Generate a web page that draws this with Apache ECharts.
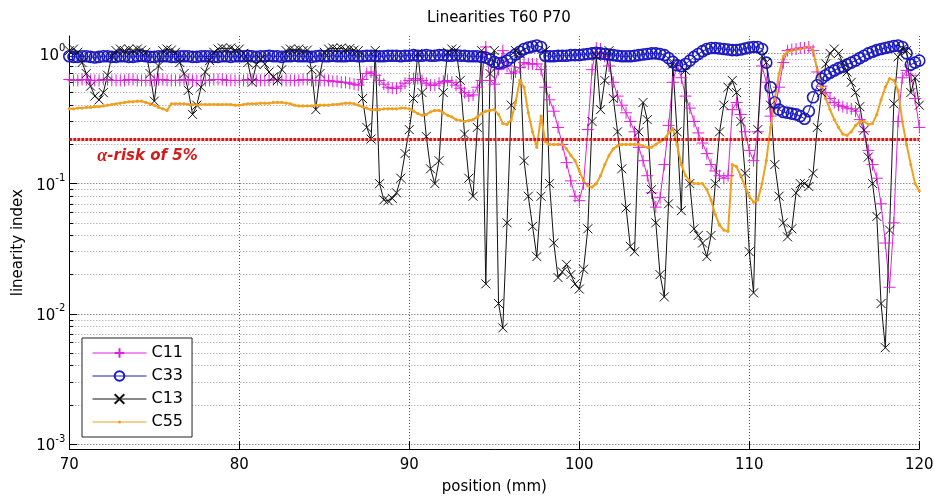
<!DOCTYPE html>
<html>
<head>
<meta charset="utf-8">
<script src="https://cdn.jsdelivr.net/npm/echarts@6/dist/echarts.min.js"></script>
<style>
  html, body { margin: 0; padding: 0; background: #fff; }
  #chart { width: 935px; height: 499px; }
</style>
</head>
<body>
<div id="chart"></div>
<script>
// Sampling grid along the specimen: 70 mm to 120 mm every 0.25 mm
const positionStart = 70;
const positionStep = 0.25;

// Linearity index per stiffness coefficient (one value per grid position)
const c11 = [
  0.63, 0.62, 0.62, 0.63,  0.63, 0.62, 0.62, 0.62,  0.63, 0.63, 0.62, 0.62,  0.62, 0.62, 0.63, 0.63,
  0.62, 0.62, 0.62, 0.62,  0.62, 0.63, 0.63, 0.62,  0.62, 0.62, 0.62, 0.63,  0.63, 0.62, 0.62, 0.62,
  0.62, 0.62, 0.63, 0.63,  0.63, 0.62, 0.62, 0.62,  0.62, 0.62, 0.63, 0.63,  0.62, 0.62, 0.62, 0.62,
  0.63, 0.63, 0.62, 0.62,  0.62, 0.62, 0.62, 0.63,  0.63, 0.62, 0.62, 0.62,  0.62, 0.62, 0.61, 0.61,
  0.60, 0.60, 0.59, 0.58,  0.57, 0.63, 0.70, 0.72,  0.68, 0.62, 0.58, 0.55,  0.54, 0.54, 0.56, 0.59,
  0.62, 0.64, 0.64, 0.62,  0.59, 0.57, 0.57, 0.59,  0.61, 0.62, 0.60, 0.57,  0.54, 0.50, 0.47, 0.48,
  0.55, 0.62, 1.12, 0.62,  0.58, 0.75, 1.05, 0.80,  0.70, 0.72, 0.78, 0.85,  0.83, 0.83, 0.83, 0.75,
  0.55, 0.44, 0.36, 0.27,  0.20, 0.145, 0.105, 0.08, 0.074, 0.10, 0.26, 0.75, 1.10, 1.08, 0.95, 0.80,
  0.60, 0.47, 0.40, 0.35,  0.30, 0.25, 0.19, 0.15,  0.115, 0.085, 0.066, 0.078, 0.14, 0.28, 0.60, 0.83,
  0.65, 0.47, 0.38, 0.30,  0.245, 0.205, 0.17, 0.14, 0.125, 0.115, 0.11, 0.115, 0.37, 0.42, 0.34, 0.25,
  0.18, 0.15, 0.25, 0.80,  0.60, 0.33, 0.38, 0.55,  0.85, 1.05, 1.07, 1.08,  1.10, 1.10, 1.12, 1.05,
  0.72, 0.56, 0.50, 0.45,  0.42, 0.40, 0.39, 0.38,  0.375, 0.36, 0.31, 0.25, 0.18, 0.14, 0.11, 0.07,
  0.035, 0.016, 0.05, 0.30, 0.65, 0.74, 0.68, 0.45, 0.27
];
const c33 = [
  0.95, 0.94, 0.94, 0.95,  0.95, 0.94, 0.93, 0.94,  0.95, 0.95, 0.94, 0.94,  0.95, 0.95, 0.94, 0.94,
  0.95, 0.96, 0.95, 0.94,  0.94, 0.95, 0.95, 0.95,  0.94, 0.94, 0.95, 0.95,  0.95, 0.94, 0.94, 0.95,
  0.95, 0.95, 0.94, 0.94,  0.95, 0.95, 0.94, 0.95,  0.95, 0.95, 0.96, 0.95,  0.94, 0.95, 0.95, 0.96,
  0.95, 0.95, 0.94, 0.95,  0.95, 0.96, 0.95, 0.95,  0.95, 0.94, 0.95, 0.96,  0.95, 0.95, 0.96, 0.95,
  0.95, 0.95, 0.96, 0.96,  0.95, 0.95, 0.96, 0.96,  0.96, 0.95, 0.95, 0.96,  0.96, 0.96, 0.95, 0.96,
  0.96, 0.97, 0.96, 0.96,  0.97, 0.96, 0.96, 0.97,  0.97, 0.96, 0.96, 0.97,  0.96, 0.96, 0.95, 0.95,
  0.95, 0.94, 0.93, 0.90,  0.86, 0.84, 0.85, 0.88,  0.93, 0.98, 1.03, 1.08,  1.11, 1.13, 1.15, 1.12,
  0.96, 0.95, 0.95, 0.96,  0.96, 0.96, 0.97, 0.97,  0.97, 0.98, 0.99, 1.00,  1.01, 1.00, 0.99, 0.98,
  0.97, 0.96, 0.95, 0.95,  0.95, 0.96, 0.97, 0.98,  0.99, 1.00, 1.00, 0.99,  0.97, 0.92, 0.86, 0.81,
  0.80, 0.83, 0.88, 0.94,  0.99, 1.04, 1.08, 1.10,  1.10, 1.09, 1.08, 1.07,  1.06, 1.06, 1.07, 1.09,
  1.11, 1.12, 1.12, 1.08,  0.85, 0.55, 0.42, 0.37,  0.355, 0.35, 0.345, 0.34, 0.33, 0.315, 0.36, 0.46,
  0.57, 0.64, 0.68, 0.71,  0.74, 0.77, 0.79, 0.82,  0.85, 0.88, 0.92, 0.96,  1.00, 1.03, 1.06, 1.08,
  1.10, 1.12, 1.14, 1.15,  1.12, 1.00, 0.82, 0.85,  0.88
];
const c13 = [
  1.05, 1.08, 1.02, 0.85,  0.70, 0.56, 0.47, 0.44,  0.50, 0.68, 0.95, 1.05,  1.08, 1.05, 1.08, 1.05,
  1.08, 1.06, 1.02, 0.70,  0.43, 0.80, 1.05, 1.08,  1.06, 1.02, 0.85, 0.70,  0.52, 0.34, 0.40, 0.55,
  0.72, 0.88, 1.02, 1.08,  1.10, 1.08, 1.10, 1.06,  1.08, 1.00, 0.85, 0.60,  0.82, 0.90, 0.83, 0.72,
  0.66, 0.62, 0.75, 1.05,  1.08, 1.06, 1.08, 1.05,  1.06, 0.75, 0.37, 0.70,  1.02, 1.08, 1.10, 1.08,
  1.10, 1.07, 1.09, 1.06,  1.05, 0.45, 0.27, 0.22,  1.05, 0.10, 0.075, 0.074, 0.077, 0.085, 0.11, 0.17,
  0.26, 0.45, 1.00, 0.50,  0.23, 0.13, 0.10, 0.15,  0.50, 1.02, 1.08, 1.06,  0.62, 0.24, 0.11, 0.08,
  0.27, 1.05, 0.017, 0.70, 1.05, 0.012, 0.0078, 0.05, 0.40, 1.05, 1.00, 0.15, 0.08, 0.047, 0.0275, 0.08,
  1.05, 0.10, 0.035, 0.019, 0.021, 0.024, 0.020, 0.017, 0.0155, 0.022, 0.045, 0.30, 0.95, 0.37, 0.62, 1.05,
  0.45, 0.25, 0.13, 0.065, 0.033, 0.03, 0.25, 0.42, 0.31, 0.09, 0.05, 0.02,  0.0135, 0.07, 0.83, 0.25,
  0.062, 0.74, 0.10, 0.045, 0.04, 0.035, 0.0275, 0.04, 0.10, 0.25, 0.40, 0.55, 0.62, 0.50, 0.30, 0.12,
  0.03, 0.0145, 0.26, 0.95, 0.85, 0.40, 0.14, 0.08, 0.05, 0.039, 0.045, 0.085, 0.10, 0.10, 0.095, 0.12,
  0.27, 0.50, 0.83, 1.00,  1.08, 1.00, 0.85, 0.72,  0.60, 0.50, 0.39, 0.257, 0.16, 0.10, 0.056, 0.012,
  0.0055, 0.044, 0.41, 0.94, 1.08, 1.05, 0.50, 0.65, 0.40
];
const c55 = [
  0.375, 0.375, 0.38, 0.38, 0.385, 0.385, 0.39, 0.39, 0.395, 0.40, 0.405, 0.41, 0.415, 0.42, 0.425, 0.425,
  0.43, 0.43, 0.42, 0.41,  0.40, 0.385, 0.375, 0.365, 0.41, 0.41, 0.41, 0.41, 0.405, 0.405, 0.405, 0.405,
  0.405, 0.405, 0.405, 0.405, 0.405, 0.405, 0.405, 0.40, 0.40, 0.405, 0.41, 0.41, 0.41, 0.415, 0.415, 0.415,
  0.42, 0.42, 0.42, 0.415, 0.41, 0.40, 0.395, 0.395, 0.395, 0.395, 0.40, 0.40, 0.40, 0.40, 0.405, 0.405,
  0.41, 0.415, 0.415, 0.41, 0.40, 0.39, 0.38, 0.37, 0.37, 0.37, 0.375, 0.375, 0.375, 0.375, 0.38, 0.38,
  0.375, 0.36, 0.345, 0.335, 0.34, 0.355, 0.365, 0.365, 0.35, 0.335, 0.325, 0.31, 0.305, 0.30, 0.305, 0.31,
  0.325, 0.345, 0.36, 0.365, 0.37, 0.34, 0.29, 0.285, 0.31, 0.42, 0.62, 0.55, 0.35, 0.25, 0.19, 0.33,
  0.21, 0.20, 0.20, 0.20,  0.20, 0.185, 0.165, 0.15, 0.125, 0.105, 0.096, 0.094, 0.10, 0.115, 0.14, 0.165,
  0.185, 0.195, 0.20, 0.20, 0.20, 0.20, 0.20, 0.195, 0.19, 0.19, 0.20, 0.21, 0.22, 0.245, 0.265, 0.20,
  0.14, 0.115, 0.105, 0.10, 0.10, 0.10, 0.09, 0.075, 0.058, 0.048, 0.044, 0.043, 0.14, 0.135, 0.115, 0.095,
  0.08, 0.072, 0.075, 0.10, 0.15, 0.27, 0.45, 0.70, 0.95, 1.03, 1.05, 1.07, 1.08, 1.10, 1.13, 1.05,
  0.75, 0.55, 0.45, 0.37, 0.31, 0.27, 0.24, 0.235, 0.25, 0.28, 0.30, 0.30, 0.285, 0.29, 0.34, 0.44,
  0.55, 0.64, 0.62, 0.52, 0.30, 0.20, 0.14, 0.10, 0.088
];

// Acceptance threshold drawn as the alpha-risk line
const alphaRisk = 0.218;

// Axis definitions
const xTicks = [70, 80, 90, 100, 110, 120];
const yDecades = [-3, -2, -1, 0];
const yMinorFactors = [2, 3, 4, 5, 6, 7, 8, 9];
const yLimits = [0.000912, 1.36];

const FONT = 'DejaVu Sans';
const positions = c11.map((_, i) => positionStart + i * positionStep);
const pair = arr => arr.map((v, i) => [positions[i], v]);

const logMin = Math.log10(yLimits[0]);
const logMax = Math.log10(yLimits[1]);
const minorLogs = [];
yDecades.forEach(d => yMinorFactors.forEach(f => {
  const l = d + Math.log10(f);
  if (l > logMin && l < logMax) minorLogs.push(l);
}));

// Marker outlines (stroked, not filled)
const plusPath = 'path://M5,0L5,10M0,5L10,5';
const crossPath = 'path://M0,0L10,10M10,0L0,10';
// Small dot kept at a fixed share of the marker box so it stays small in the legend too
const dotPath = 'path://M0,0L0.01,0M10,10L10.01,10M6.6,5A1.6,1.6 0 1,1 3.4,5A1.6,1.6 0 1,1 6.6,5Z';

const baseSeries = {
  type: 'line',
  xAxisIndex: 0,
  yAxisIndex: 0,
  showAllSymbol: true,
  animation: false,
  emphasis: { disabled: true },
  silent: true
};

const chart = echarts.init(document.getElementById('chart'), null, { renderer: 'canvas' });
chart.setOption({
  backgroundColor: '#ffffff',
  animation: false,
  title: {
    text: 'Linearities T60 P70',
    left: 494,
    top: 6,
    textAlign: 'center',
    textStyle: { fontFamily: FONT, fontSize: 15, fontWeight: 'normal', color: '#000' }
  },
  legend: {
    data: ['C11', 'C33', 'C13', 'C55'],
    orient: 'vertical',
    left: 82,
    top: 338,
    itemWidth: 54,
    itemHeight: 12,
    itemGap: 7,
    padding: [7, 9, 7, 10],
    backgroundColor: '#fff',
    borderColor: '#222',
    borderWidth: 1,
    borderRadius: 0,
    selectedMode: false,
    lineStyle: { width: 1 },
    textStyle: { fontFamily: FONT, fontSize: 16, color: '#000' }
  },
  grid: {
    left: 69.3,
    right: 15.7,
    top: 36,
    bottom: 49.7,
    containLabel: false,
    outerBoundsMode: 'none'
  },
  xAxis: {
    type: 'value',
    min: xTicks[0],
    max: xTicks[xTicks.length - 1],
    interval: 10,
    name: 'position (mm)',
    nameLocation: 'middle',
    nameGap: 30,
    nameTextStyle: { fontFamily: FONT, fontSize: 15, color: '#000' },
    axisLine: { onZero: false, lineStyle: { color: '#000', width: 1 } },
    axisTick: { inside: true, length: 8, lineStyle: { color: '#000' } },
    axisLabel: { fontFamily: FONT, fontSize: 15, color: '#000', margin: 8 },
    splitLine: { show: true, lineStyle: { color: '#555', width: 1, type: [1, 2] } }
  },
  yAxis: [
    {
      type: 'log',
      logBase: 10,
      min: yLimits[0],
      max: yLimits[1],
      show: false
    },
    {
      type: 'value',
      position: 'left',
      min: logMin,
      max: logMax,
      name: 'linearity index',
      nameLocation: 'middle',
      nameGap: 44,
      nameTextStyle: { fontFamily: FONT, fontSize: 15, color: '#000' },
      axisLine: { show: true, onZero: false, lineStyle: { color: '#000', width: 1 } },
      axisTick: { show: true, inside: true, length: 8, customValues: yDecades, lineStyle: { color: '#000' } },
      axisLabel: {
        customValues: yDecades,
        margin: 4,
        formatter: v => '{b|10}{s|' + Math.round(v) + '}',
        rich: {
          b: { fontFamily: FONT, fontSize: 15, color: '#000', lineHeight: 20, verticalAlign: 'bottom' },
          s: { fontFamily: FONT, fontSize: 10, color: '#000', lineHeight: 20, verticalAlign: 'top' }
        }
      },
      splitLine: { show: true, lineStyle: { color: '#555', width: 1, type: [1, 2] } }
    },
    {
      type: 'value',
      position: 'left',
      min: logMin,
      max: logMax,
      axisLine: { show: false, onZero: false },
      axisLabel: { show: false },
      axisTick: { show: true, inside: true, length: 4, customValues: minorLogs, lineStyle: { color: '#000' } },
      splitLine: { show: true, lineStyle: { color: '#999', width: 1, type: [1, 2] } }
    }
  ],
  series: [
    Object.assign({}, baseSeries, {
      name: 'C11',
      data: pair(c11),
      symbol: plusPath,
      symbolSize: 12,
      lineStyle: { color: '#e01ee0', width: 1 },
      itemStyle: { color: 'rgba(0,0,0,0)', borderColor: '#e01ee0', borderWidth: 1 }
    }),
    Object.assign({}, baseSeries, {
      name: 'C33',
      data: pair(c33),
      symbol: 'circle',
      symbolSize: 11,
      lineStyle: { color: '#1a1abe', width: 1 },
      itemStyle: { color: 'rgba(0,0,0,0)', borderColor: '#1a1abe', borderWidth: 1.6 }
    }),
    Object.assign({}, baseSeries, {
      name: 'C13',
      data: pair(c13),
      symbol: crossPath,
      symbolSize: 9,
      lineStyle: { color: '#111', width: 1 },
      itemStyle: { color: 'rgba(0,0,0,0)', borderColor: '#111', borderWidth: 1 }
    }),
    Object.assign({}, baseSeries, {
      name: 'C55',
      data: pair(c55),
      symbol: dotPath,
      symbolSize: 10,
      lineStyle: { color: '#f0a020', width: 2 },
      itemStyle: { color: '#f0a020', borderWidth: 0 },
      markLine: {
        silent: true,
        animation: false,
        symbol: ['none', 'none'],
        data: [{ yAxis: alphaRisk }],
        lineStyle: { color: '#e01515', width: 3, type: [3, 1] },
        label: {
          show: true,
          position: 'insideStartBottom',
          distance: [28, 8],
          formatter: '{a|α}-risk of 5%',
          fontFamily: FONT,
          fontSize: 15,
          fontWeight: 'bold',
          fontStyle: 'italic',
          color: '#d41a1a',
          rich: {
            a: { fontFamily: 'Liberation Serif', fontSize: 18, fontStyle: 'italic', fontWeight: 'bold', color: '#d41a1a' }
          }
        }
      }
    })
  ]
});
</script>
</body>
</html>
